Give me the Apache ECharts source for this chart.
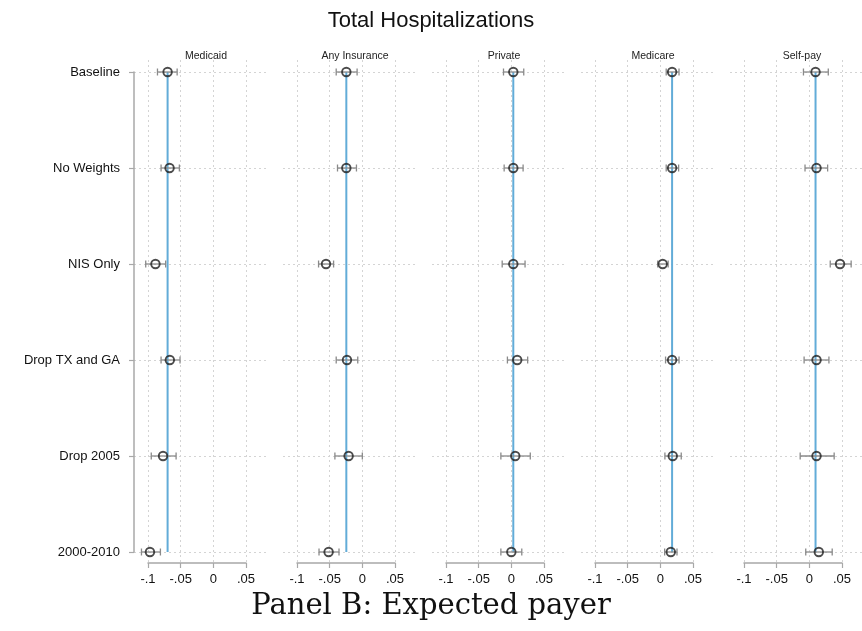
<!DOCTYPE html>
<html>
<head>
<meta charset="utf-8">
<script src="https://cdn.jsdelivr.net/npm/echarts@6/dist/echarts.min.js"></script>
<style>
  html, body { margin: 0; padding: 0; background: #fff; }
  #chart { width: 862px; height: 631px; }
</style>
</head>
<body>
<div id="chart"></div>
<script>
// Specifications (rows, top to bottom)
const specs = ['Baseline', 'No Weights', 'NIS Only', 'Drop TX and GA', 'Drop 2005', '2000-2010'];

// Payer outcomes (one panel each)
const payers = ['Medicaid', 'Any Insurance', 'Private', 'Medicare', 'Self-pay'];

// Point estimates and 95% confidence bounds per payer
const medicaidEst = [-0.070, -0.067, -0.0886, -0.0666, -0.077, -0.097];
const medicaidLo  = [-0.0855, -0.080, -0.1035, -0.080, -0.095, -0.110];
const medicaidHi  = [-0.0554, -0.052, -0.073, -0.051, -0.057, -0.081];

const anyInsEst = [-0.0245, -0.0245, -0.0556, -0.0235, -0.021, -0.0516];
const anyInsLo  = [-0.040, -0.038, -0.067, -0.040, -0.042, -0.0663];
const anyInsHi  = [-0.008, -0.009, -0.044, -0.007, 0.000, -0.0357];

const privateEst = [0.003, 0.003, 0.003, 0.009, 0.006, 0.000];
const privateLo  = [-0.012, -0.011, -0.014, -0.006, -0.016, -0.016];
const privateHi  = [0.019, 0.018, 0.021, 0.025, 0.029, 0.016];

const medicareEst = [0.018, 0.018, 0.0036, 0.018, 0.019, 0.016];
const medicareLo  = [0.009, 0.009, -0.004, 0.008, 0.007, 0.0066];
const medicareHi  = [0.0286, 0.028, 0.012, 0.0286, 0.032, 0.0255];

const selfPayEst = [0.0095, 0.011, 0.047, 0.011, 0.011, 0.0145];
const selfPayLo  = [-0.009, -0.0066, 0.032, -0.008, -0.014, -0.0055];
const selfPayHi  = [0.029, 0.028, 0.064, 0.030, 0.038, 0.035];

// x-axis tick values and their labels
const xTicks = [-0.1, -0.05, 0, 0.05];
const xTickLabels = ['-.1', '-.05', '0', '.05'];

const panelData = [
  [medicaidEst, medicaidLo, medicaidHi],
  [anyInsEst, anyInsLo, anyInsHi],
  [privateEst, privateLo, privateHi],
  [medicareEst, medicareLo, medicareHi],
  [selfPayEst, selfPayLo, selfPayHi]
];

const chart = echarts.init(document.getElementById('chart'), null, { renderer: 'canvas' });

const FONT = 'Liberation Sans, Arial, Helvetica, sans-serif';
const GRID_GREY = '#d4d4d4';
const AXIS_GREY = '#a8a8a8';
const REF_BLUE = '#62acd8';

const grids = [], xAxes = [], yAxes = [], series = [], titles = [];

titles.push({
  text: 'Total Hospitalizations',
  left: 'center', top: 5,
  textStyle: { fontFamily: FONT, fontSize: 22, fontWeight: 'normal', color: '#111' }
});
titles.push({
  text: 'Panel B: Expected payer',
  left: 'center', top: 587,
  textStyle: { fontFamily: 'DejaVu Serif, serif', fontSize: 29, fontWeight: 'normal', color: '#111' }
});

const rowPad = 12 / 96; // rows sit 12px inside the data area, 96px apart

payers.forEach((name, p) => {
  const tickLeft = 148 + 149 * p;
  const tickWidth = 98;
  const [est, lo, hi] = panelData[p];

  // Frame grid: wider area holding the dotted row guides (and the row labels on panel 1)
  const fIdx = grids.length;
  grids.push({ left: tickLeft - 14, width: tickWidth + 36, top: 72, height: 480 });
  xAxes.push({ gridIndex: fIdx, type: 'value', min: 0, max: 1, show: false });
  yAxes.push({
    gridIndex: fIdx, type: 'category', data: specs, inverse: true, boundaryGap: false,
    offset: p === 0 ? 8 : 0,
    axisLine: { show: p === 0, lineStyle: { color: AXIS_GREY, width: 1.5 } },
    axisTick: { show: p === 0, length: 5, lineStyle: { color: AXIS_GREY, width: 1.2 } },
    axisLabel: { show: p === 0, margin: 6, fontFamily: FONT, fontSize: 13, color: '#111' },
    splitLine: { show: true, lineStyle: { color: GRID_GREY, type: [2, 3], width: 1 } }
  });

  // Data grid: spans exactly the tick range
  const dIdx = grids.length;
  grids.push({ left: tickLeft, width: tickWidth, top: 60, height: 503 });
  xAxes.push({
    gridIndex: dIdx, type: 'value', min: -0.1, max: 0.05, interval: 0.05, position: 'bottom',
    axisLine: { show: true, onZero: false, lineStyle: { color: AXIS_GREY, width: 1.5 } },
    axisTick: { show: true, length: 5, lineStyle: { color: AXIS_GREY, width: 1.2 } },
    axisLabel: {
      margin: 10, fontFamily: FONT, fontSize: 13, color: '#111',
      formatter: v => {
        const i = xTicks.findIndex(t => Math.abs(t - v) < 1e-9);
        return i >= 0 ? xTickLabels[i] : '';
      }
    },
    splitLine: { show: true, lineStyle: { color: GRID_GREY, type: [2, 3], width: 1 } }
  });
  yAxes.push({
    gridIndex: dIdx, type: 'value', inverse: true,
    min: -rowPad, max: specs.length - 1 + 11 / 96, show: false, splitLine: { show: false }
  });

  titles.push({
    text: name,
    left: tickLeft - 14 + (tickWidth + 36) / 2, top: 46, textAlign: 'center',
    textStyle: { fontFamily: FONT, fontSize: 10.5, fontWeight: 'normal', color: '#222' }
  });

  // Reference line at the baseline estimate
  series.push({
    type: 'line', xAxisIndex: dIdx, yAxisIndex: dIdx, symbol: 'none', silent: true,
    lineStyle: { color: REF_BLUE, width: 2 },
    data: [[est[0], 0], [est[0], specs.length - 1]], z: 2
  });

  // Confidence intervals with end caps
  series.push({
    type: 'custom', xAxisIndex: dIdx, yAxisIndex: dIdx, silent: true, z: 3,
    data: specs.map((s, i) => [lo[i], hi[i], i]),
    renderItem: (params, api) => {
      const a = api.coord([api.value(0), api.value(2)]);
      const b = api.coord([api.value(1), api.value(2)]);
      const style = { stroke: '#8a8a8a', lineWidth: 1.3 };
      const cap = 3.5;
      return {
        type: 'group',
        children: [
          { type: 'line', shape: { x1: a[0], y1: a[1], x2: b[0], y2: b[1] }, style },
          { type: 'line', shape: { x1: a[0], y1: a[1] - cap, x2: a[0], y2: a[1] + cap }, style },
          { type: 'line', shape: { x1: b[0], y1: b[1] - cap, x2: b[0], y2: b[1] + cap }, style }
        ]
      };
    }
  });

  // Point estimates
  series.push({
    type: 'scatter', xAxisIndex: dIdx, yAxisIndex: dIdx, silent: true, z: 4,
    symbol: 'circle', symbolSize: 8.5,
    itemStyle: { color: 'rgba(255,255,255,0)', borderColor: '#1e1e1e', borderWidth: 1.9 },
    data: specs.map((s, i) => [est[i], i])
  });
});

chart.setOption({
  animation: false,
  backgroundColor: '#fff',
  title: titles,
  grid: grids,
  xAxis: xAxes,
  yAxis: yAxes,
  series: series
});
</script>
</body>
</html>
